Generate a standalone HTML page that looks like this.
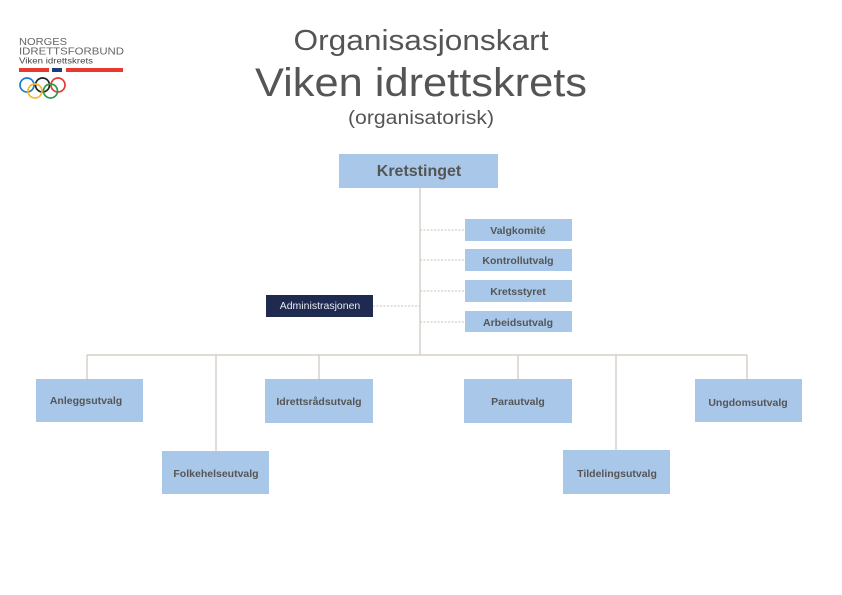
<!DOCTYPE html>
<html><head><meta charset="utf-8"><style>
html,body{margin:0;padding:0;background:#fff;}
svg{display:block;}
text{font-family:"Liberation Sans",sans-serif;}
</style></head><body>
<svg width="842" height="595" viewBox="0 0 842 595" xmlns="http://www.w3.org/2000/svg">
<!-- logo -->
<text x="19" y="45" font-size="10.5" fill="#666" textLength="48" lengthAdjust="spacingAndGlyphs">NORGES</text>
<text x="19" y="54.5" font-size="10.5" fill="#666" textLength="105" lengthAdjust="spacingAndGlyphs">IDRETTSFORBUND</text>
<text x="19" y="63.5" font-size="8.5" fill="#444" textLength="74" lengthAdjust="spacingAndGlyphs">Viken idrettskrets</text>
<rect x="19" y="68" width="30" height="4" fill="#e8392f"/>
<rect x="52" y="68" width="10" height="4" fill="#1f3c78"/>
<rect x="66" y="68" width="57" height="4" fill="#e8392f"/>
<g fill="none" stroke-width="1.7">
<circle cx="27" cy="85" r="7" stroke="#1f7bc8"/>
<circle cx="42.5" cy="85" r="7" stroke="#222"/>
<circle cx="58" cy="85" r="7" stroke="#e23a36"/>
<circle cx="35" cy="91" r="7" stroke="#f3b82b"/>
<circle cx="50.5" cy="91" r="7" stroke="#2a9a4a"/>
</g>
<!-- titles -->
<text x="421" y="50" font-size="29" fill="#555" text-anchor="middle" textLength="255" lengthAdjust="spacingAndGlyphs">Organisasjonskart</text>
<text x="421" y="96" font-size="40" fill="#555" text-anchor="middle" textLength="332" lengthAdjust="spacingAndGlyphs">Viken idrettskrets</text>
<text x="421" y="124" font-size="19" fill="#555" text-anchor="middle" textLength="146" lengthAdjust="spacingAndGlyphs">(organisatorisk)</text>
<!-- lines -->
<g stroke="#cfc5bd" stroke-width="1.2" fill="none">
<line x1="420" y1="188" x2="420" y2="355"/>
<line x1="87" y1="355" x2="747" y2="355"/>
<line x1="87" y1="355" x2="87" y2="379"/>
<line x1="216" y1="355" x2="216" y2="451"/>
<line x1="319" y1="355" x2="319" y2="379"/>
<line x1="518" y1="355" x2="518" y2="379"/>
<line x1="616" y1="355" x2="616" y2="451"/>
<line x1="747" y1="355" x2="747" y2="379"/>
</g>
<g stroke="#c8c0b8" stroke-width="1" stroke-dasharray="2,1.5" fill="none">
<line x1="420" y1="230" x2="465" y2="230"/>
<line x1="420" y1="260" x2="465" y2="260"/>
<line x1="420" y1="291" x2="465" y2="291"/>
<line x1="420" y1="322" x2="465" y2="322"/>
<line x1="373" y1="306" x2="420" y2="306"/>
</g>
<!-- boxes -->
<g fill="#a8c7e9">
<rect x="339" y="154" width="159" height="34"/>
<rect x="465" y="219" width="107" height="22"/>
<rect x="465" y="249" width="107" height="22"/>
<rect x="465" y="280" width="107" height="22"/>
<rect x="465" y="311" width="107" height="21"/>
<rect x="36" y="379" width="107" height="43"/>
<rect x="162" y="451" width="107" height="43"/>
<rect x="265" y="379" width="108" height="44"/>
<rect x="464" y="379" width="108" height="44"/>
<rect x="563" y="450" width="107" height="44"/>
<rect x="695" y="379" width="107" height="43"/>
</g>
<rect x="266" y="295" width="107" height="22" fill="#1e2a4f"/>
<g fill="#555" font-weight="bold" text-anchor="middle">
<text x="419" y="176" font-size="16">Kretstinget</text>
<text x="518" y="234" font-size="10.5">Valgkomité</text>
<text x="518" y="264" font-size="10.5">Kontrollutvalg</text>
<text x="518" y="295" font-size="10.5">Kretsstyret</text>
<text x="518" y="326" font-size="10.5">Arbeidsutvalg</text>
<text x="86" y="404" font-size="10.5">Anleggsutvalg</text>
<text x="216" y="477" font-size="10.5">Folkehelseutvalg</text>
<text x="319" y="405" font-size="10.5">Idrettsrådsutvalg</text>
<text x="518" y="405" font-size="10.5">Parautvalg</text>
<text x="617" y="477" font-size="10.5">Tildelingsutvalg</text>
<text x="748" y="406" font-size="10.5">Ungdomsutvalg</text>
</g>
<text x="320" y="309" font-size="10.5" fill="#e8ebf3" text-anchor="middle">Administrasjonen</text>
</svg>
</body></html>
